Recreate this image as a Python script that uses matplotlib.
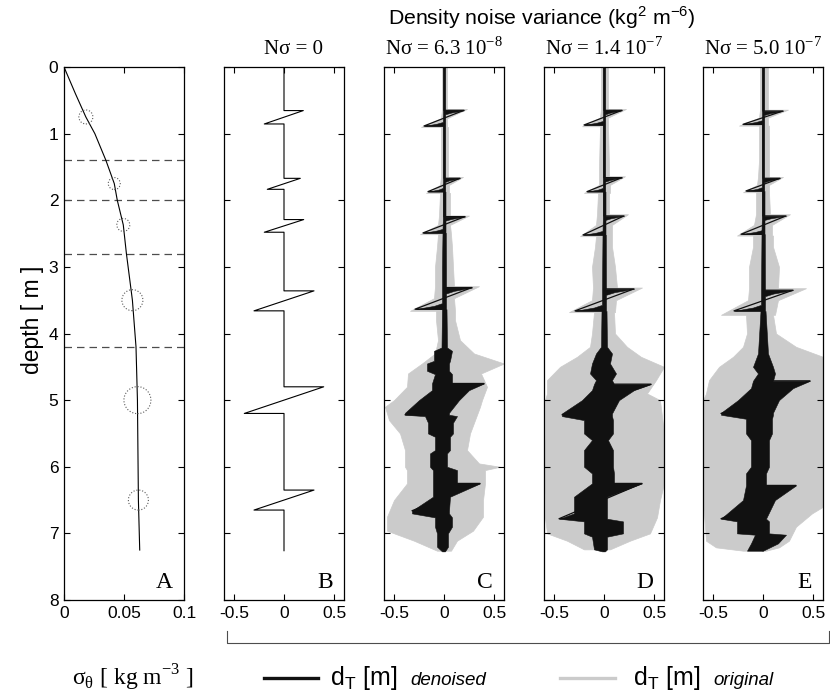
import matplotlib.pyplot as plt
from matplotlib.lines import Line2D

plt.rcParams['font.family'] = ['Liberation Sans', 'DejaVu Sans']

SERIF = ['Liberation Serif', 'DejaVu Serif']
GREY = '#cbcbcb'
W, H = 830, 693

# panel A : density profile
a_depth = [0, 0.4, 0.75, 1.0, 1.4, 1.75, 2.0, 2.37, 2.8, 3.5, 4.2, 5.0, 6.5, 7.25]
a_sigma = [0, 0.0095, 0.0182, 0.0257, 0.0349, 0.0419, 0.0444, 0.0494, 0.052, 0.057, 0.060, 0.0612, 0.062, 0.0631]
circ_depth = [0.75, 1.75, 2.37, 3.5, 5.0, 6.5]
circ_sigma = [0.0182, 0.0419, 0.0494, 0.057, 0.0612, 0.062]
circ_diam = [14, 12, 13, 21, 27, 20]   # pixels
dash_depth = [1.4, 2.0, 2.8, 4.2]

# panel B : dT without noise
b_depth = [0, 0.654, 0.654, 0.855, 0.855, 1.671, 1.671, 1.836, 1.836, 2.29, 2.29, 2.48, 2.48,
           3.36, 3.36, 3.66, 3.66, 4.80, 4.80, 5.20, 5.20, 6.35, 6.35, 6.65, 6.65, 7.26]
b_dt = [0, 0, 0.193, -0.197, 0, 0, 0.163, -0.167, 0, 0, 0.197, -0.197, 0,
        0, 0.30, -0.30, 0, 0, 0.397, -0.397, 0, 0, 0.30, -0.30, 0, 0]

# denoised traces: zigzag skeleton (depth, dT)
c_trace = [(0, 0), (0.65, 0), (0.65, 0.20), (0.885, -0.20), (0.885, 0), (1.67, 0), (1.67, 0.16), (1.87, -0.16),
           (1.87, 0), (2.245, 0), (2.245, 0.21), (2.49, -0.21), (2.49, 0), (3.31, 0), (3.31, 0.28),
           (3.635, -0.29), (3.635, 0), (4.75, 0), (4.75, 0.40), (5.22, -0.39), (5.22, 0), (6.25, 0),
           (6.25, 0.36), (6.66, -0.32), (6.66, 0), (7.27, 0)]
d_trace = [(0, 0), (0.65, 0), (0.65, 0.18), (0.87, -0.20), (0.87, 0), (1.66, 0), (1.66, 0.18), (1.87, -0.17),
           (1.87, 0), (2.235, 0), (2.235, 0.20), (2.52, -0.21), (2.52, 0), (3.33, 0), (3.33, 0.30),
           (3.66, -0.29), (3.66, 0), (4.76, 0), (4.76, 0.47), (5.22, -0.42), (5.22, 0), (6.25, 0),
           (6.25, 0.38), (6.78, -0.45), (6.78, 0), (7.27, 0)]
e_trace = [(0, 0), (0.66, 0), (0.66, 0.20), (0.86, -0.20), (0.86, 0), (1.67, 0), (1.67, 0.17), (1.86, -0.17),
           (1.86, 0), (2.235, 0), (2.235, 0.23), (2.51, -0.22), (2.51, 0), (3.35, 0), (3.35, 0.30),
           (3.66, -0.29), (3.66, 0), (4.71, 0), (4.71, 0.47), (5.2, -0.42), (5.2, 0), (6.28, 0),
           (6.28, 0.33), (6.78, -0.42), (6.78, 0), (7.26, 0)]

# noisy panels: rows of (depth, left edge, right edge)
c_grey = [(0.0, -0.02, 0.03), (0.63, -0.02, 0.03), (0.63, -0.02, 0.23), (0.77, -0.03, 0.03), (0.90, -0.23, 0.03),
          (0.90, -0.03, 0.04), (1.65, -0.03, 0.04), (1.65, -0.03, 0.19), (1.77, -0.04, 0.05), (1.89, -0.18, 0.05),
          (1.89, -0.04, 0.06), (2.23, -0.05, 0.06), (2.23, -0.05, 0.25), (2.37, -0.06, 0.06), (2.51, -0.24, 0.07),
          (2.51, -0.06, 0.07), (2.7, -0.07, 0.08), (3.0, -0.09, 0.09), (3.29, -0.09, 0.10), (3.29, -0.09, 0.35),
          (3.47, -0.10, 0.10), (3.66, -0.34, 0.11), (3.66, -0.08, 0.11), (3.8, -0.08, 0.11), (4.1, -0.06, 0.16),
          (4.3, -0.09, 0.30), (4.45, -0.22, 0.6), (4.6, -0.36, 0.37), (4.8, -0.37, 0.43), (5.0, -0.5, 0.38),
          (5.1, -0.59, 0.36), (5.3, -0.55, 0.31), (5.5, -0.44, 0.26), (5.75, -0.39, 0.23), (5.95, -0.39, 0.35),
          (6.0, -0.39, 0.56), (6.05, -0.37, 0.41), (6.25, -0.37, 0.41), (6.5, -0.5, 0.39), (6.75, -0.57, 0.39),
          (6.96, -0.57, 0.29), (7.11, -0.30, 0.13), (7.26, -0.07, 0.07)]
c_black = [(0.0, -0.01, 0.012), (0.65, -0.01, 0.012), (0.65, -0.01, 0.20), (0.685, -0.01, 0.07), (0.71, -0.01, 0.012),
           (0.825, -0.012, 0.012), (0.85, -0.07, 0.012), (0.885, -0.20, 0.012), (0.885, -0.01, 0.012),
           (1.67, -0.01, 0.012), (1.67, -0.01, 0.16), (1.70, -0.01, 0.055), (1.725, -0.01, 0.012),
           (1.815, -0.012, 0.012), (1.84, -0.055, 0.012), (1.87, -0.16, 0.012), (1.87, -0.012, 0.015),
           (2.245, -0.012, 0.015), (2.245, -0.012, 0.21), (2.28, -0.012, 0.075), (2.305, -0.012, 0.015),
           (2.43, -0.015, 0.015), (2.455, -0.075, 0.015), (2.49, -0.21, 0.015), (2.49, -0.015, 0.018),
           (3.0, -0.02, 0.02), (3.31, -0.02, 0.02), (3.31, -0.02, 0.28), (3.36, -0.02, 0.10), (3.40, -0.02, 0.02),
           (3.545, -0.02, 0.02), (3.585, -0.10, 0.02), (3.635, -0.29, 0.02), (3.635, -0.02, 0.025),
           (4.21, -0.025, 0.03), (4.26, -0.10, 0.08), (4.41, -0.10, 0.06), (4.45, -0.17, 0.05), (4.56, -0.17, 0.05),
           (4.61, -0.09, 0.08), (4.75, -0.12, 0.08), (4.75, -0.12, 0.40), (4.85, -0.12, 0.25), (5.0, -0.25, 0.15),
           (5.19, -0.39, 0.05), (5.22, -0.39, 0.05), (5.24, -0.19, 0.13), (5.34, -0.16, 0.09), (5.5, -0.16, 0.09),
           (5.55, -0.09, 0.06), (5.75, -0.09, 0.06), (5.8, -0.14, 0.03), (6.0, -0.14, 0.03), (6.05, -0.11, 0.13),
           (6.25, -0.11, 0.13), (6.25, -0.11, 0.36), (6.45, -0.11, 0.06), (6.66, -0.32, 0.05), (6.7, -0.32, 0.05),
           (6.76, -0.09, 0.08), (6.9, -0.09, 0.08), (7.0, -0.07, 0.04), (7.2, -0.07, 0.04), (7.27, -0.02, 0.01)]

d_grey = [(0.0, -0.03, 0.04), (0.63, -0.03, 0.04), (0.63, -0.03, 0.22), (0.76, -0.04, 0.04), (0.89, -0.22, 0.04),
          (0.89, -0.04, 0.04), (1.5, -0.05, 0.05), (1.64, -0.05, 0.05), (1.64, -0.05, 0.21), (1.77, -0.05, 0.06),
          (1.89, -0.2, 0.06), (1.89, -0.06, 0.05), (2.21, -0.07, 0.05), (2.21, -0.07, 0.24), (2.37, -0.08, 0.08),
          (2.54, -0.24, 0.08), (2.54, -0.08, 0.08), (2.7, -0.09, 0.08), (3.0, -0.12, 0.11), (3.31, -0.11, 0.13),
          (3.31, -0.11, 0.38), (3.5, -0.12, 0.12), (3.68, -0.35, 0.11), (3.68, -0.1, 0.1), (4.0, -0.12, 0.11),
          (4.2, -0.14, 0.23), (4.35, -0.27, 0.37), (4.5, -0.44, 0.6), (4.7, -0.57, 0.52), (4.9, -0.57, 0.43),
          (5.0, -0.59, 0.56), (5.5, -0.59, 0.6), (5.75, -0.6, 0.6), (6.25, -0.6, 0.6), (6.5, -0.59, 0.56),
          (6.76, -0.59, 0.53), (7.0, -0.57, 0.46), (7.11, -0.37, 0.26), (7.24, -0.2, 0.06)]
d_black = [(0.0, -0.01, 0.012), (0.65, -0.01, 0.012), (0.65, -0.01, 0.18), (0.685, -0.01, 0.063), (0.71, -0.01, 0.012),
           (0.81, -0.012, 0.012), (0.835, -0.07, 0.012), (0.87, -0.20, 0.012), (0.87, -0.012, 0.012),
           (1.66, -0.012, 0.012), (1.66, -0.012, 0.18), (1.695, -0.012, 0.063), (1.72, -0.012, 0.012),
           (1.815, -0.012, 0.012), (1.84, -0.06, 0.012), (1.87, -0.17, 0.012), (1.87, -0.012, 0.015),
           (2.235, -0.012, 0.015), (2.235, -0.012, 0.20), (2.27, -0.012, 0.07), (2.295, -0.012, 0.015),
           (2.46, -0.015, 0.015), (2.485, -0.075, 0.015), (2.52, -0.21, 0.015), (2.52, -0.015, 0.018),
           (3.33, -0.02, 0.02), (3.33, -0.02, 0.30), (3.38, -0.02, 0.105), (3.42, -0.02, 0.02), (3.57, -0.02, 0.02),
           (3.61, -0.10, 0.02), (3.66, -0.29, 0.02), (3.66, -0.025, 0.025), (4.2, -0.03, 0.03), (4.3, -0.08, 0.08),
           (4.45, -0.12, 0.06), (4.6, -0.14, 0.12), (4.7, -0.08, 0.08), (4.76, -0.1, 0.1), (4.76, -0.1, 0.47),
           (4.85, -0.12, 0.3), (5.0, -0.22, 0.15), (5.2, -0.42, 0.08), (5.24, -0.42, 0.08), (5.3, -0.2, 0.09),
           (5.5, -0.2, 0.09), (5.6, -0.12, 0.04), (5.75, -0.2, 0.09), (6.0, -0.2, 0.09), (6.1, -0.12, 0.1),
           (6.25, -0.12, 0.1), (6.25, -0.12, 0.38), (6.45, -0.3, 0.03), (6.7, -0.3, 0.03), (6.78, -0.45, 0.03),
           (6.82, -0.2, 0.19), (7.0, -0.2, 0.19), (7.05, -0.12, 0.03), (7.24, -0.1, 0.03), (7.27, -0.02, 0.01)]

e_grey = [(0.0, -0.03, 0.05), (0.64, -0.03, 0.05), (0.64, -0.03, 0.25), (0.76, -0.04, 0.05), (0.88, -0.24, 0.05),
          (0.88, -0.04, 0.06), (1.4, -0.04, 0.06), (1.65, -0.05, 0.06), (1.65, -0.05, 0.2), (1.77, -0.06, 0.06),
          (1.88, -0.2, 0.06), (1.88, -0.07, 0.06), (2.21, -0.07, 0.07), (2.21, -0.07, 0.27), (2.37, -0.09, 0.09),
          (2.53, -0.26, 0.09), (2.53, -0.1, 0.1), (2.7, -0.1, 0.1), (3.0, -0.14, 0.16), (3.32, -0.14, 0.15),
          (3.32, -0.14, 0.43), (3.5, -0.15, 0.15), (3.72, -0.42, 0.12), (3.72, -0.17, 0.1), (4.0, -0.16, 0.13),
          (4.2, -0.2, 0.33), (4.35, -0.3, 0.6), (4.5, -0.44, 0.6), (4.7, -0.54, 0.6), (4.9, -0.57, 0.6),
          (5.0, -0.6, 0.6), (6.6, -0.6, 0.6), (6.7, -0.59, 0.49), (6.9, -0.58, 0.33), (7.11, -0.57, 0.26),
          (7.21, -0.47, 0.16), (7.26, -0.2, 0.03)]
e_black = [(0.0, -0.01, 0.012), (0.66, -0.01, 0.012), (0.66, -0.01, 0.20), (0.695, -0.01, 0.07), (0.72, -0.01, 0.012),
           (0.80, -0.012, 0.012), (0.825, -0.07, 0.012), (0.86, -0.20, 0.012), (0.86, -0.012, 0.012),
           (1.67, -0.012, 0.012), (1.67, -0.012, 0.17), (1.705, -0.012, 0.06), (1.73, -0.012, 0.012),
           (1.805, -0.012, 0.012), (1.83, -0.06, 0.012), (1.86, -0.17, 0.012), (1.86, -0.012, 0.015),
           (2.235, -0.012, 0.015), (2.235, -0.012, 0.23), (2.27, -0.012, 0.08), (2.295, -0.012, 0.015),
           (2.45, -0.015, 0.015), (2.475, -0.077, 0.015), (2.51, -0.22, 0.015), (2.51, -0.015, 0.018),
           (3.35, -0.02, 0.02), (3.35, -0.02, 0.30), (3.40, -0.02, 0.105), (3.44, -0.02, 0.02), (3.57, -0.02, 0.02),
           (3.61, -0.10, 0.02), (3.66, -0.29, 0.02), (3.66, -0.025, 0.025), (4.3, -0.05, 0.05), (4.5, -0.1, 0.1),
           (4.6, -0.05, 0.12), (4.71, -0.1, 0.1), (4.71, -0.1, 0.47), (4.82, -0.12, 0.3), (5.0, -0.25, 0.16),
           (5.19, -0.42, 0.1), (5.22, -0.42, 0.1), (5.28, -0.17, 0.09), (5.5, -0.17, 0.09), (5.6, -0.12, 0.06),
           (6.0, -0.12, 0.06), (6.1, -0.17, 0.03), (6.28, -0.17, 0.03), (6.28, -0.17, 0.33), (6.5, -0.2, 0.12),
           (6.78, -0.42, 0.03), (6.82, -0.26, 0.06), (7.0, -0.26, 0.06), (7.02, -0.08, 0.23), (7.15, -0.12, 0.15),
           (7.26, -0.16, 0.0)]

titles = ['N\u03c3 = 0', 'N\u03c3 = 6.3 10$^{\\mathregular{-8}}$',
          'N\u03c3 = 1.4 10$^{\\mathregular{-7}}$', 'N\u03c3 = 5.0 10$^{\\mathregular{-7}}$']
title_x = [0.575, 0.5, 0.5, 0.5]
letters = ['A', 'B', 'C', 'D', 'E']
panel_left = [64, 224, 384, 544, 703]

fig = plt.figure(figsize=(W / 100, H / 100), dpi=100)

axes = []
for i, lp in enumerate(panel_left):
    ax = fig.add_axes([lp / W, 1 - 600 / H, 120 / W, 533 / H])
    ax.set_ylim(8, 0)
    ax.set_yticks(range(9))
    ax.tick_params(direction='in', top=True, right=True, length=4, width=0.8,
                   labelsize=12.5, pad=4)
    for s in ax.spines.values():
        s.set_linewidth(0.9)
    if i == 0:
        ax.set_xlim(0, 0.1)
        ax.set_xticks([0, 0.05, 0.1])
        ax.set_xticklabels(['0', '0.05', '0.1'])
    else:
        ax.set_xlim(-0.6, 0.6)
        ax.set_xticks([-0.5, 0, 0.5])
        ax.set_xticklabels(['-0.5', '0', '0.5'])
        ax.tick_params(labelleft=False)
        ax.set_title(titles[i - 1], family=SERIF, fontsize=15, pad=9, x=title_x[i - 1])
    ax.text(0.91, 0.022, letters[i], transform=ax.transAxes, ha='right', va='baseline',
            family=SERIF, fontsize=17)
    axes.append(ax)

# A
axA = axes[0]
for d in dash_depth:
    axA.axhline(d, color='0.3', lw=0.9, dashes=(6, 4))
axA.plot(a_sigma, a_depth, color='k', lw=0.8)
axA.scatter(circ_sigma, circ_depth, s=[(c * 0.72) ** 2 for c in circ_diam], facecolors='none',
            edgecolors='0.35', linewidths=0.8, linestyles=':', zorder=3)
fig.text(32 / W, 1 - 320 / H, 'depth [ m ]', rotation=90, fontsize=16.5, ha='center', va='center')

# B
axes[1].plot(b_dt, b_depth, color='k', lw=0.8)

# C, D, E
for ax, grey, black, trace in zip(axes[2:], [c_grey, d_grey, e_grey], [c_black, d_black, e_black],
                                  [c_trace, d_trace, e_trace]):
    gd, glo, ghi = zip(*grey)
    bd, blo, bhi = zip(*black)
    td, tv = zip(*trace)
    ax.fill_betweenx(gd, glo, ghi, color=GREY, lw=0.5, zorder=1)
    ax.fill_betweenx(bd, blo, bhi, facecolor='#111111', edgecolor='#111111', lw=0.4, zorder=2)
    ax.plot(tv, td, color='#111111', lw=0.9, zorder=3)

# header
fig.text(542 / W, 1 - 18 / H, 'Density noise variance (kg$^{\\mathregular{2}}$ m$^{\\mathregular{-6}}$)',
         ha='center', va='center', fontsize=15.3)

# bracket under B..E
bx0, bx1 = 227 / W, 829 / W
by0, by1 = 1 - 643 / H, 1 - 631 / H
fig.add_artist(Line2D([bx0, bx0, bx1, bx1], [by1, by0, by0, by1], transform=fig.transFigure,
                      color='0.3', lw=0.8))

# bottom legend row
ly = 1 - 678 / H
fig.text(72 / W, ly, '\u03c3$_{\\mathregular{\u03b8}}$ [ kg m$^{\\mathregular{-3}}$ ]', family=SERIF,
         fontsize=17, ha='left', va='center')
fig.add_artist(Line2D([264 / W, 318 / W], [ly, ly], transform=fig.transFigure, color='#111111', lw=2.4))
fig.add_artist(Line2D([560 / W, 615 / W], [ly, ly], transform=fig.transFigure, color=GREY, lw=2.4))
fig.text(330 / W, ly, 'd$_{\\mathregular{T}}$ [m]', fontsize=18, ha='left', va='center')
fig.text(410 / W, ly - 0.003, 'denoised', fontsize=13.5, style='italic', ha='left', va='center')
fig.text(633 / W, ly, 'd$_{\\mathregular{T}}$ [m]', fontsize=18, ha='left', va='center')
fig.text(713 / W, ly - 0.003, 'original', fontsize=13.5, style='italic', ha='left', va='center')

fig.savefig('out.png', dpi=100)
